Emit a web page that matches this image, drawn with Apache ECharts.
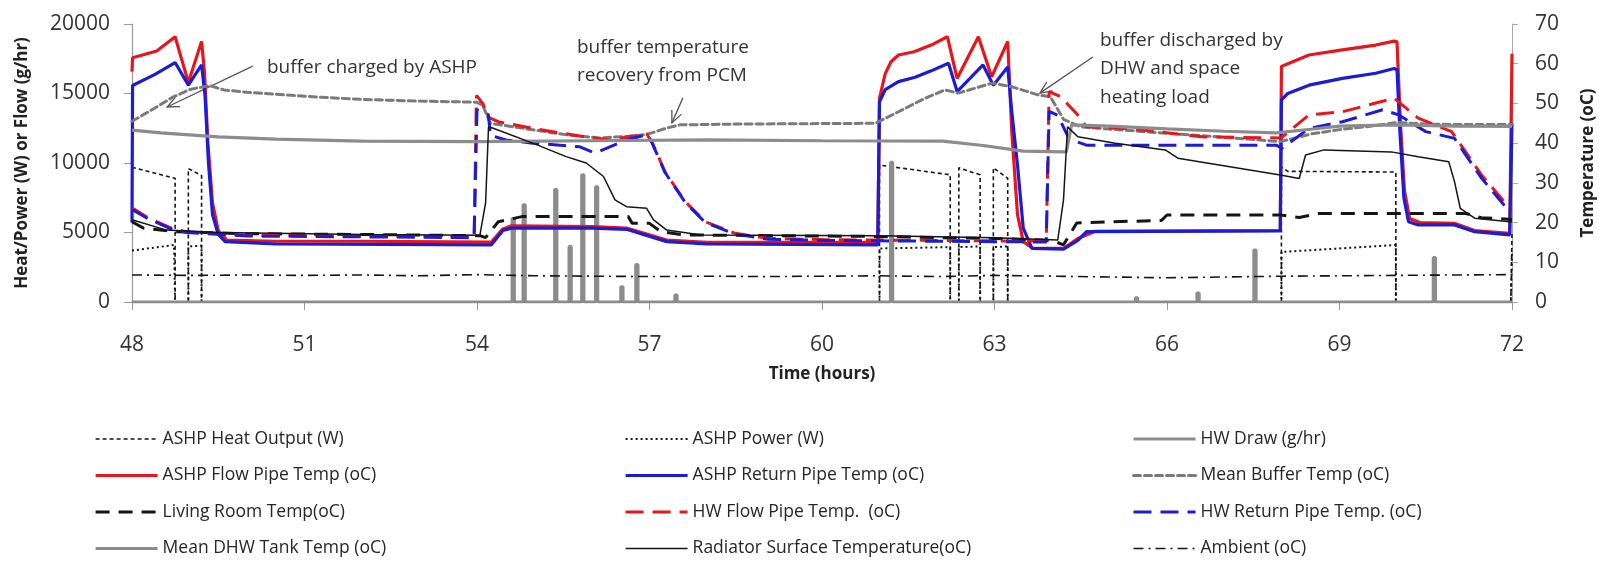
<!DOCTYPE html>
<html>
<head>
<meta charset="utf-8">
<title>Buffer, heat pump and hot water temperatures, hours 48-72</title>
<script src="https://cdn.jsdelivr.net/npm/echarts@6/dist/echarts.min.js"></script>
<style>
  html, body { margin: 0; padding: 0; background: #ffffff; }
  #chart { width: 1599px; height: 571px; }
</style>
</head>
<body>
<div id="chart"></div>
<script>
// ---- time axis (hours) and value axes ----
const timeTicks = [48, 51, 54, 57, 60, 63, 66, 69, 72];
const leftTicks = [0, 5000, 10000, 15000, 20000];
const rightTicks = [0, 10, 20, 30, 40, 50, 60, 70];

// ---- left axis series: [hour, W or g/hr] ----
const ashpHeatOutput = [
  [48, 9700], [48.75, 8900], [48.75, 0], [48.98, 0], [48.98, 9600], [49.21, 9100], [49.21, 0],
  [61.0, 0], [61.0, 9850], [62.23, 9150], [62.23, 0], [62.38, 0], [62.38, 9650], [62.75, 9150], [62.75, 0],
  [62.98, 0], [62.98, 9650], [63.23, 8900], [63.23, 0], [67.99, 0], [67.99, 9700], [68.1, 9400],
  [69.98, 9350], [69.98, 0], [71.98, 0], [72, 5000]
];
const ashpPower = [
  [48, 3700], [48.73, 4100], [48.75, 0], [48.98, 0], [48.98, 4000], [49.21, 4050], [49.21, 0],
  [61.0, 0], [61.0, 3850], [62.23, 3950], [62.23, 0], [62.38, 0], [62.38, 3950], [62.75, 4000], [62.75, 0],
  [62.98, 0], [62.98, 3950], [63.23, 4000], [63.23, 0], [67.99, 0], [67.99, 3600], [69.98, 4100],
  [69.98, 0], [71.98, 0], [72, 3500]
];
const hwDraw = [
  [48, 0],
  [54.61, 0], [54.61, 6000], [54.65, 6000], [54.65, 0],
  [54.80, 0], [54.80, 7000], [54.84, 7000], [54.84, 0],
  [55.35, 0], [55.35, 8100], [55.39, 8100], [55.39, 0],
  [55.60, 0], [55.60, 4000], [55.64, 4000], [55.64, 0],
  [55.82, 0], [55.82, 9150], [55.86, 9150], [55.86, 0],
  [56.06, 0], [56.06, 8300], [56.10, 8300], [56.10, 0],
  [56.50, 0], [56.50, 1100], [56.54, 1100], [56.54, 0],
  [56.76, 0], [56.76, 2700], [56.80, 2700], [56.80, 0],
  [57.44, 0], [57.44, 500], [57.48, 500], [57.48, 0],
  [61.19, 0], [61.19, 10050], [61.23, 10050], [61.23, 0],
  [65.45, 0], [65.45, 300], [65.49, 300], [65.49, 0],
  [66.52, 0], [66.52, 650], [66.56, 650], [66.56, 0],
  [67.51, 0], [67.51, 3750], [67.55, 3750], [67.55, 0],
  [70.63, 0], [70.63, 3200], [70.67, 3200], [70.67, 0],
  [72, 0]
];

// ---- right axis series: [hour, degC] ----
const ashpFlowTemp = [
  [48, 58], [48.01, 61.5], [48.43, 63.2], [48.75, 66.8], [48.98, 55.3], [49.21, 65.6], [49.26, 58],
  [49.32, 40], [49.4, 25], [49.5, 18], [49.65, 15.6], [50.5, 15.3], [52, 15.3], [54.25, 15.1],
  [54.45, 18.4], [54.6, 19.2], [56, 19], [56.6, 18.6], [57.3, 15.6], [58, 15], [60.97, 15],
  [61.0, 51.3], [61.1, 57.5], [61.2, 60.5], [61.33, 62.2], [61.6, 63.0], [61.9, 64.7], [62.18, 66.8],
  [62.35, 56.3], [62.72, 66.8], [62.95, 56.7], [63.23, 65.6], [63.3, 43], [63.4, 22], [63.5, 15.2],
  [63.67, 13.5], [64.2, 13.5], [64.45, 16], [64.75, 17.8], [67.97, 18], [67.99, 59.3], [68.05, 59.7],
  [68.47, 62.2], [69.05, 63.5], [69.63, 64.7], [69.95, 65.7], [70.0, 65.5], [70.06, 45], [70.13, 28],
  [70.22, 21], [70.4, 20], [71.0, 19.8], [71.35, 18], [71.96, 17.3], [72, 62.5]
];
const ashpReturnTemp = [
  [48, 20], [48.01, 54.5], [48.4, 57.3], [48.75, 60.3], [48.98, 54.6], [49.21, 59.7], [49.27, 52],
  [49.33, 35], [49.4, 22], [49.5, 17], [49.62, 15.2], [50.5, 14.6], [54.25, 14.4], [54.45, 18],
  [54.6, 18.6], [56.0, 18.6], [56.6, 18.3], [57.3, 15.2], [58, 14.6], [60.97, 14.4], [61.0, 50.4],
  [61.1, 53.5], [61.33, 55.5], [61.62, 56.6], [61.9, 58.2], [62.2, 60.1], [62.35, 53], [62.8, 59.7],
  [62.98, 54.6], [63.23, 59.2], [63.3, 48], [63.4, 34.5], [63.5, 18.6], [63.65, 13.5], [64.2, 13.3],
  [64.45, 15.5], [64.6, 17.7], [67.97, 17.9], [67.99, 50.9], [68.1, 52.5], [68.47, 54.6], [69.05, 56.3],
  [69.63, 57.6], [69.95, 58.8], [70.0, 58.5], [70.05, 43], [70.12, 26.2], [70.2, 20.2], [70.37, 19.4],
  [71.0, 19.4], [71.35, 17.7], [71.96, 16.9], [72, 45]
];
const meanBufferTemp = [
  [48, 45.5], [48.3, 48], [48.7, 51.5], [49.0, 53.5], [49.35, 54.5], [49.6, 53.4], [50, 52.8],
  [51, 51.8], [52, 51], [53, 50.6], [54.0, 50.3], [54.1, 49.5], [54.23, 45], [55, 43.3], [55.6, 42],
  [56.14, 41.3], [56.6, 41.7], [56.95, 42.2], [57.3, 43.8], [57.53, 44.6], [58.5, 44.8], [60.93, 45],
  [61.33, 47.9], [61.79, 51.3], [62.14, 53.4], [62.37, 52.6], [62.96, 55.1], [63.3, 54.2],
  [63.77, 52.1], [63.97, 51.7], [64.2, 46], [64.5, 44.1], [65.5, 43], [66.5, 42], [67.97, 40.4],
  [68.2, 41.2], [68.5, 42.3], [69, 43.4], [69.5, 44.2], [70, 45.2], [70.5, 44.8], [71, 44.7], [72, 44.7]
];
const livingRoomTemp = [
  [48, 20.2], [48.2, 18.6], [48.75, 17.7], [50, 17.2], [52, 17], [54.05, 16.7], [54.15, 16.2],
  [54.37, 20.2], [54.78, 21.5], [56.63, 21.5], [56.7, 19.8], [57.0, 19.8], [57.2, 17.7], [57.6, 16.9],
  [60, 16.6], [61, 16.5], [62, 16.2], [63, 16], [64, 15.5], [64.2, 14.4], [64.43, 19.9], [65.0, 20.2],
  [65.9, 20.5], [66.0, 21.9], [67.98, 21.9], [68.3, 21.3], [68.65, 22.3], [71.2, 22.3], [71.47, 21.2],
  [72, 20.8]
];
const hwFlowTemp = [
  [48, 23.7], [48.3, 21], [48.7, 18.5], [48.95, 17.7], [50, 16.8], [52, 16.6], [53.95, 16.4],
  [53.99, 52], [54.1, 50], [54.2, 46.5], [54.37, 45.4], [54.97, 43.7], [55.87, 41.6], [56.3, 40.8],
  [56.95, 42.3], [57.04, 40.4], [57.27, 32.8], [57.62, 25.3], [57.97, 20.2], [58.49, 17.3],
  [59.07, 16], [60.05, 15.7], [61, 15.6], [63.9, 15.3], [63.95, 53], [64.15, 51.7], [64.45, 47.1],
  [64.6, 44.1], [65.4, 43.6], [66.6, 41.6], [67.98, 41.3], [68.47, 47.1], [69.05, 47.9], [69.95, 51.3],
  [70.37, 46.3], [70.95, 42.9], [71.47, 32], [71.96, 23.6]
];
const hwReturnTemp = [
  [48, 23.3], [48.3, 20.8], [48.7, 18.3], [48.95, 17.5], [50, 16.6], [52, 16.4], [53.95, 16.2],
  [54.0, 48.4], [54.2, 47.1], [54.23, 42], [54.5, 40.8], [54.97, 40], [55.78, 39.1], [56.05, 37.5],
  [56.6, 40.8], [56.95, 42.1], [57.04, 40.2], [57.27, 32.6], [57.62, 25.1], [57.97, 20], [58.49, 17.1],
  [59.07, 15.8], [60.05, 15.5], [61, 15.4], [63.9, 15.1], [63.95, 48], [64.1, 47], [64.3, 41],
  [64.6, 39.5], [67.9, 39.5], [68, 38.7], [68.47, 43.7], [69.05, 45.4], [69.75, 48.4], [70.03, 47.1],
  [70.5, 42.9], [71.0, 41.2], [71.47, 31.2], [71.96, 22.7]
];
const dhwTankTemp = [
  [48, 43.3], [48.5, 42.6], [49.5, 41.6], [50.5, 41.0], [52, 40.5], [54, 40.4], [56, 40.6], [58, 40.8],
  [60, 40.6], [62.1, 40.5], [62.8, 39.4], [63.5, 38], [64.25, 37.8], [64.34, 44.6], [65, 44.3],
  [66, 43.6], [67, 43], [67.9, 42.6], [68.5, 43.5], [69, 44.3], [70, 44.6], [71, 44.3], [72, 44.2]
];
const radiatorTemp = [
  [48, 20.7], [48.6, 18.1], [49.5, 17.5], [52, 17.0], [54.05, 16.8], [54.15, 25], [54.2, 44],
  [54.27, 43.8], [54.97, 40], [55.55, 36.6], [55.9, 35], [56.2, 31.6], [56.4, 25.7], [56.6, 24],
  [56.95, 23.6], [57.07, 20.7], [57.3, 18.1], [57.9, 16.9], [61, 16.7], [63, 16.2], [64.1, 15.6],
  [64.2, 25.7], [64.27, 44.1], [64.45, 41.6], [65.1, 40], [65.97, 38.3], [66.19, 36.2], [67.97, 32],
  [68.3, 31.1], [68.41, 37], [68.73, 38.3], [69.9, 37.8], [70.37, 36.6], [70.9, 35.3], [71.0, 30.3],
  [71.1, 23.6], [71.35, 21.1], [71.96, 20.2], [72, 20.2]
];
const ambientTemp = [
  [48, 6.8], [49, 6.7], [50, 6.8], [51, 6.7], [52, 6.8], [53, 6.6], [54, 6.9], [55, 6.6], [56, 6.5],
  [57, 6.4], [58, 6.5], [59, 6.4], [60, 6.5], [61, 6.6], [62, 6.4], [63, 6.7], [64, 6.5], [65, 6.3],
  [66, 6.1], [67, 6.3], [68, 6.5], [69, 6.6], [70, 6.7], [71, 6.8], [72, 6.9]
];

// ---- annotation texts with arrow tail/head in [hour, degC] ----
const notes = [
  { text: 'buffer charged by ASHP', left: 267, top: 53, tail: [50.1, 59.4], head: [48.61, 49.1] },
  { text: 'buffer temperature\nrecovery from PCM', left: 577, top: 33, tail: [57.58, 51.4], head: [57.39, 45.1] },
  { text: 'buffer discharged by\nDHW and space\nheating load', left: 1100, top: 26, tail: [64.71, 61.7], head: [63.79, 52.6] }
];

const RED = '#e8161c', BLUE = '#1c1cd6', BLACK = '#151515', GRAY = '#8c8c8c', DGRAY = '#7a7a7a';
const FONT = 'Open Sans';

function line(name, data, yAxisIndex, color, width, type, cap) {
  return {
    name, type: 'line', data, yAxisIndex,
    symbol: 'none', showSymbol: false, animation: false,
    lineStyle: { color, width, type, cap: cap || 'butt' },
    itemStyle: { color },
    emphasis: { disabled: true }
  };
}

const series = [
  line('ASHP Heat Output (W)', ashpHeatOutput, 0, BLACK, 1.6, [4, 3]),
  line('ASHP Power (W)', ashpPower, 0, BLACK, 2, [2, 3]),
  line('HW Draw (g/hr)', hwDraw, 0, GRAY, 3, 'solid'),
  line('ASHP Flow Pipe Temp (oC)', ashpFlowTemp, 1, RED, 3.2, 'solid'),
  line('ASHP Return Pipe Temp (oC)', ashpReturnTemp, 1, BLUE, 3.2, 'solid'),
  line('Mean Buffer Temp (oC)', meanBufferTemp, 1, DGRAY, 3, [7, 4], 'round'),
  line('Living Room Temp(oC)', livingRoomTemp, 1, BLACK, 3, [14, 9]),
  line('HW Flow Pipe Temp.  (oC)', hwFlowTemp, 1, RED, 3, [18, 9]),
  line('HW Return Pipe Temp. (oC)', hwReturnTemp, 1, BLUE, 3, [18, 9]),
  line('Mean DHW Tank Temp (oC)', dhwTankTemp, 1, GRAY, 3.2, 'solid'),
  line('Radiator Surface Temperature(oC)', radiatorTemp, 1, BLACK, 1.5, 'solid'),
  line('Ambient (oC)', ambientTemp, 1, BLACK, 1.6, [10, 5, 2, 5])
];

const legendText = { fontFamily: FONT, fontSize: 17.5, color: '#262626', lineHeight: 18 };
function legendColumn(names, left) {
  return {
    data: names, left, top: 430, orient: 'vertical', padding: 0,
    itemWidth: 62, itemHeight: 14, itemGap: 18.5,
    selectedMode: false, textStyle: legendText,
    lineStyle: { width: 'inherit' },
    // only the line sample is shown, no point marker on it
    itemStyle: { color: 'rgba(0,0,0,0)', borderWidth: 0, opacity: 0 }
  };
}

const titleFont = { fontFamily: FONT, fontSize: 17, fontWeight: 'bold', color: '#222' };

const chart = echarts.init(document.getElementById('chart'), null, { renderer: 'canvas' });

chart.setOption({
  backgroundColor: '#ffffff',
  animation: false,
  grid: { left: 132, right: 87, top: 24, bottom: 269, containLabel: false, outerBoundsMode: 'none' },
  legend: [
    legendColumn(['ASHP Heat Output (W)', 'ASHP Flow Pipe Temp (oC)', 'Living Room Temp(oC)', 'Mean DHW Tank Temp (oC)'], 94),
    legendColumn(['ASHP Power (W)', 'ASHP Return Pipe Temp (oC)', 'HW Flow Pipe Temp.  (oC)', 'Radiator Surface Temperature(oC)'], 624),
    legendColumn(['HW Draw (g/hr)', 'Mean Buffer Temp (oC)', 'HW Return Pipe Temp. (oC)', 'Ambient (oC)'], 1132)
  ],
  xAxis: {
    type: 'value', min: timeTicks[0], max: timeTicks[timeTicks.length - 1], interval: 3,
    name: 'Time (hours)', nameLocation: 'middle', nameGap: 64,
    nameTextStyle: titleFont,
    axisLine: { lineStyle: { color: '#9a9a9a', width: 1.5 } },
    axisTick: { show: true, length: 8, inside: false, lineStyle: { color: '#9a9a9a' } },
    axisLabel: { margin: 33, fontFamily: FONT, fontSize: 21, color: '#333' },
    splitLine: { show: false }
  },
  yAxis: [
    {
      type: 'value', min: leftTicks[0], max: leftTicks[leftTicks.length - 1], interval: 5000,
      name: 'Heat/Power (W) or Flow (g/hr)', nameLocation: 'middle', nameGap: 101, nameRotate: 90,
      nameTextStyle: titleFont,
      axisLine: { show: true, lineStyle: { color: '#9a9a9a', width: 1.2 } },
      axisTick: { show: true, length: 8, lineStyle: { color: '#9a9a9a' } },
      axisLabel: {
        margin: 22, fontFamily: FONT, fontSize: 21, color: '#333',
        formatter: function (v) { return String(v); }
      },
      splitLine: { show: false }
    },
    {
      type: 'value', min: rightTicks[0], max: rightTicks[rightTicks.length - 1], interval: 10,
      name: 'Temperature (oC)', nameLocation: 'middle', nameGap: 68, nameRotate: 90,
      nameTextStyle: titleFont,
      axisLine: { show: true, lineStyle: { color: '#a8a8a8', width: 1 } },
      axisTick: { show: true, length: 6, lineStyle: { color: '#a8a8a8' } },
      axisLabel: { margin: 23, fontFamily: FONT, fontSize: 21, color: '#333' },
      splitLine: { show: false }
    }
  ],
  series
});

// annotations: text blocks plus open-headed arrows pointing at the buffer curve
function toPx(pt) {
  const x = chart.convertToPixel({ xAxisIndex: 0 }, pt[0]);
  const y = chart.convertToPixel({ yAxisIndex: 1 }, pt[1]);
  return [x, y];
}
const graphics = [];
notes.forEach(function (n) {
  graphics.push({
    type: 'text', left: n.left, top: n.top, silent: true,
    style: { text: n.text, fontFamily: FONT, fontSize: 19, fill: '#333', lineHeight: 28.5 }
  });
  const a = toPx(n.tail), b = toPx(n.head);
  const ang = Math.atan2(a[1] - b[1], a[0] - b[0]);
  const len = 13, spread = 0.42;
  const w1 = [b[0] + len * Math.cos(ang + spread), b[1] + len * Math.sin(ang + spread)];
  const w2 = [b[0] + len * Math.cos(ang - spread), b[1] + len * Math.sin(ang - spread)];
  graphics.push({
    type: 'line', silent: true,
    shape: { x1: a[0], y1: a[1], x2: b[0], y2: b[1] },
    style: { stroke: '#555', lineWidth: 1.3 }
  });
  graphics.push({
    type: 'polyline', silent: true,
    shape: { points: [w1, b, w2] },
    style: { stroke: '#555', lineWidth: 1.3, fill: null }
  });
});
chart.setOption({ graphic: graphics });
</script>
</body>
</html>
